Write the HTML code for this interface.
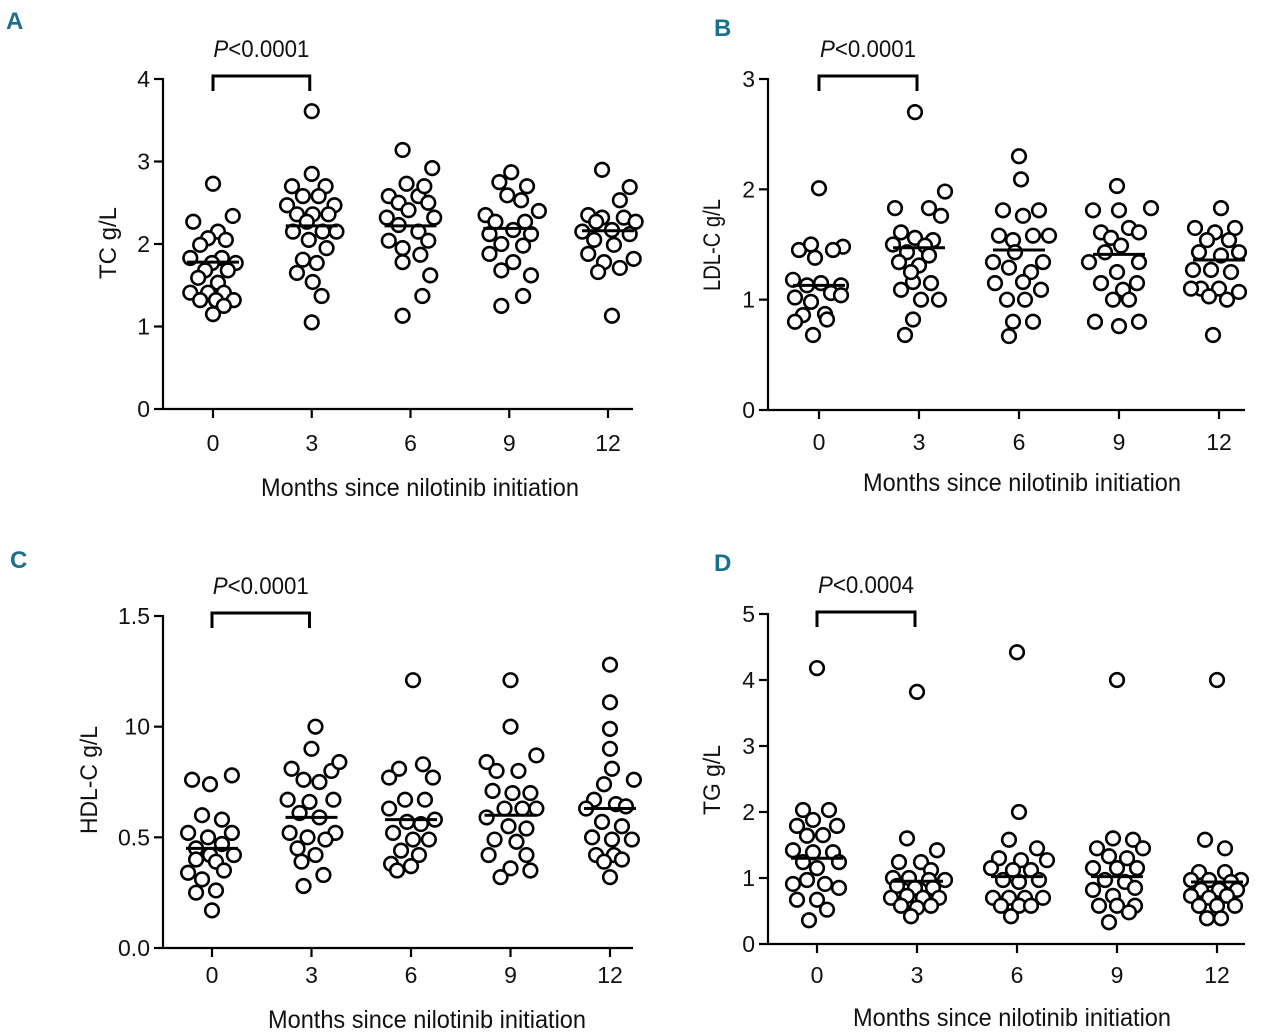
<!DOCTYPE html>
<html><head><meta charset="utf-8">
<style>
html,body{margin:0;padding:0;background:#fff;}
svg{display:block;font-family:"Liberation Sans Narrow","Liberation Sans",sans-serif;}
</style></head>
<body>
<svg id="chart" width="1280" height="1036" viewBox="0 0 1280 1036" xmlns="http://www.w3.org/2000/svg"></svg>
<script>
// ---- Data (values in g/L; jitter in units of 0.03 months) ----
const months = [0, 3, 6, 9, 12];

const tcVals = [
  [2.73,2.34,2.27,2.15,2.07,2.05,1.99,1.83,1.83,1.77,1.77,1.68,1.68,1.59,1.53,1.41,1.41,1.41,1.32,1.32,1.32,1.25,1.15],
  [3.61,2.85,2.7,2.7,2.58,2.58,2.47,2.47,2.36,2.36,2.36,2.27,2.15,2.15,2.15,2.05,1.95,1.81,1.77,1.65,1.54,1.37,1.05],
  [3.14,2.92,2.73,2.58,2.58,2.7,2.5,2.5,2.41,2.32,2.32,2.23,2.15,2.04,2.04,1.95,1.78,1.87,1.62,1.37,1.13],
  [2.87,2.75,2.7,2.59,2.53,2.35,2.4,2.27,2.27,2.17,2.12,2.12,2.0,1.98,1.88,1.78,1.68,1.62,1.37,1.25],
  [2.9,2.69,2.53,2.35,2.32,2.32,2.27,2.27,2.17,2.15,2.12,2.05,1.99,1.88,1.82,1.78,1.71,1.66,1.13]
];
const tcJit = [
  [0,20,-20,5,-5,13,-13,-23,9,-1,23,-8,15,-15,5,-23,-5,11,-13,3,21,11,0],
  [0,0,-20,14,-9,7,-25,23,-15,1,17,-5,-19,11,25,-3,15,-9,5,-15,1,10,0],
  [-8,22,-4,-22,8,14,-12,18,-2,-24,24,-12,8,-22,18,-8,-8,10,20,12,-8],
  [2,-10,18,-2,12,-24,30,-14,16,4,-20,22,-8,14,-20,4,-8,22,14,-8],
  [-6,22,12,-20,-6,16,-12,28,4,-26,22,-14,6,-20,26,-4,12,-10,4]
];
const tcMeans = [1.78, 2.22, 2.22, 2.19, 2.16];

const ldlVals = [
  [2.01,1.45,1.5,1.48,1.45,1.38,1.18,1.13,1.15,1.13,1.06,1.02,0.98,1.04,0.86,0.87,0.8,0.82,0.68],
  [2.7,1.98,1.83,1.83,1.61,1.56,1.76,1.54,1.5,1.49,1.43,1.4,1.34,1.31,1.16,1.15,1.09,1.0,1.0,0.82,0.68,1.25],
  [2.3,2.09,1.81,1.81,1.76,1.58,1.58,1.54,1.58,1.43,1.34,1.34,1.29,1.25,1.15,1.16,1.09,1.0,1.0,0.8,0.8,0.67],
  [2.03,1.81,1.81,1.83,1.65,1.61,1.56,1.61,1.49,1.43,1.34,1.34,1.25,1.15,1.15,1.09,1.0,1.0,0.8,0.76,0.8],
  [1.83,1.65,1.61,1.65,1.54,1.54,1.43,1.4,1.43,1.27,1.27,1.25,1.1,1.1,1.1,1.07,1.03,1.0,0.68]
];
const ldlJit = [
  [0,-20,-8,24,14,-4,-26,-12,2,22,12,-24,-8,22,-16,6,-24,8,-6],
  [-4,26,-24,10,-18,-4,22,14,-26,6,-12,10,-20,0,-6,12,-18,2,20,-6,-14,-8],
  [0,2,-16,20,4,-20,14,-6,30,-4,-26,24,-10,12,-24,4,22,-12,6,-6,14,-10],
  [-2,-26,0,32,10,-18,-8,20,2,-14,-30,20,-2,-18,18,4,-6,10,-24,0,20],
  [2,-24,-4,16,-12,10,-20,2,20,-26,-8,12,-18,0,-28,20,-10,8,-6]
];
const ldlMeans = [1.13, 1.47, 1.45, 1.41, 1.36];

const hdlVals = [
  [0.76,0.74,0.78,0.6,0.58,0.52,0.5,0.52,0.47,0.45,0.42,0.42,0.4,0.39,0.34,0.35,0.31,0.26,0.25,0.17],
  [1.0,0.9,0.81,0.8,0.76,0.84,0.75,0.67,0.66,0.67,0.61,0.59,0.52,0.52,0.5,0.49,0.45,0.42,0.39,0.33,0.28],
  [1.21,0.81,0.83,0.77,0.77,0.67,0.67,0.63,0.57,0.56,0.58,0.52,0.49,0.49,0.44,0.42,0.38,0.37,0.35],
  [1.21,1.0,0.87,0.84,0.8,0.8,0.71,0.7,0.7,0.63,0.63,0.63,0.59,0.55,0.54,0.49,0.48,0.42,0.42,0.36,0.32,0.35],
  [1.28,1.11,0.99,0.9,0.81,0.74,0.76,0.67,0.65,0.63,0.64,0.57,0.55,0.5,0.49,0.49,0.42,0.42,0.39,0.4,0.32]
];
const hdlJit = [
  [-20,-2,20,-10,10,-24,-4,20,10,-16,-2,22,-16,4,-24,12,-10,4,-16,0],
  [4,0,-20,20,-8,28,8,-24,-2,22,-12,8,-22,24,-4,14,-14,4,-10,12,-8],
  [2,-12,12,-22,22,-6,14,-22,-4,10,24,-18,2,18,-10,8,-20,0,-14],
  [0,0,26,-24,-14,8,-18,2,20,-6,12,26,-24,-2,16,-16,6,-22,16,0,-10,20],
  [0,0,0,0,2,-6,24,-16,6,-24,16,-8,12,-18,2,22,-14,4,-6,12,0]
];
const hdlMeans = [0.45, 0.59, 0.58, 0.6, 0.63];

const tgVals = [
  [4.18,2.03,2.03,1.88,1.79,1.79,1.64,1.65,1.42,1.39,1.39,1.24,1.24,1.15,0.91,0.97,0.91,0.85,0.67,0.67,0.52,0.36],
  [3.82,1.6,1.42,1.24,1.24,1.12,1.0,1.0,0.97,0.97,0.88,0.85,0.85,0.7,0.73,0.7,0.7,0.58,0.55,0.58,0.42],
  [4.42,2.0,1.58,1.45,1.3,1.27,1.27,1.15,1.12,1.12,0.97,0.94,0.97,0.7,0.7,0.7,0.7,0.58,0.58,0.58,0.42],
  [4.0,1.6,1.58,1.45,1.45,1.33,1.3,1.15,1.15,1.15,0.97,0.94,0.82,0.85,0.73,0.58,0.58,0.58,0.33,0.48],
  [4.0,1.58,1.45,1.09,1.09,0.97,0.97,0.97,0.94,0.82,0.82,0.82,0.73,0.7,0.73,0.58,0.58,0.58,0.39,0.39]
];
const tgJit = [
  [0,-14,12,-4,-20,20,-10,6,-24,-4,16,-14,22,0,-24,-10,8,22,-20,0,10,-8],
  [0,-10,20,-18,4,14,-24,-8,12,28,-20,-2,16,-26,-10,6,22,-16,0,14,-6],
  [0,2,-8,20,-18,4,30,-26,-4,14,-14,2,22,-24,-8,8,26,-16,2,14,-6],
  [0,-4,16,-20,26,-8,10,-24,0,20,-12,8,-24,18,-4,-18,0,18,-8,12],
  [0,-12,8,-18,8,24,-26,-8,14,-16,2,20,-26,-8,10,-18,0,18,-10,4]
];
const tgMeans = [1.3, 0.95, 1.02, 1.02, 0.94];

const tcTicks = [0,1,2,3,4], tcTickLabels = ["0","1","2","3","4"];
const ldlTicks = [0,1,2,3], ldlTickLabels = ["0","1","2","3"];
const hdlTicks = [0,0.5,1,1.5], hdlTickLabels = ["0.0","0.5","10","1.5"];
const tgTicks = [0,1,2,3,4,5], tgTickLabels = ["0","1","2","3","4","5"];
const monthLabels = ["0","3","6","9","12"];

// ---- Drawing ----
const NS = "http://www.w3.org/2000/svg";
const svg = document.getElementById("chart");
function mk(tag, attrs, parent, txt){
  const e = document.createElementNS(NS, tag);
  for (const k in attrs) e.setAttribute(k, attrs[k]);
  if (txt !== undefined) e.textContent = txt;
  (parent || svg).appendChild(e);
  return e;
}

function panel(cfg){
  const g = mk("g", {});
  
  
  const yS = v => cfg.yB - (v / cfg.ymax) * (cfg.yB - cfg.yT);
  const xS = m => cfg.x0 + (m / 12) * (cfg.x12 - cfg.x0);

  const letter = mk("text", {x: cfg.lx, y: cfg.ly, "font-size": 24, "font-weight": "bold", fill: "#1d6f8e"}, g, cfg.letter);
  
  

  const yAxis = mk("line", {x1: cfg.ax, y1: cfg.yT - 1, x2: cfg.ax, y2: cfg.yB + 1, stroke: "#000", "stroke-width": 2.2}, g);
  
  
  const xAxis = mk("line", {x1: cfg.ax, y1: cfg.yB, x2: cfg.right, y2: cfg.yB, stroke: "#000", "stroke-width": 2.2}, g);
  
  

  cfg.ticks.forEach((t, i) => {
    const y = yS(t);
    mk("line", {x1: cfg.ax - 9, y1: y, x2: cfg.ax, y2: y, stroke: "#000", "stroke-width": 2.2}, g);
    const tl = mk("text", {x: cfg.ax - 13, y: y + 8, "font-size": 23, "text-anchor": "end", fill: "#111"}, g, cfg.tickLabels[i]);
    
    
  });
  months.forEach((m, i) => {
    const x = xS(m);
    mk("line", {x1: x, y1: cfg.yB, x2: x, y2: cfg.yB + 9, stroke: "#000", "stroke-width": 2.2}, g);
    const tl = mk("text", {x: x, y: cfg.xtY, "font-size": 23, "text-anchor": "middle", fill: "#111"}, g, monthLabels[i]);
    
    
  });
  const xt = mk("text", {x: cfg.xtitleX, y: cfg.xtitleY, "font-size": 25, "text-anchor": "middle", fill: "#111", textLength: 318, lengthAdjust: "spacingAndGlyphs"}, g, "Months since nilotinib initiation");
  
  
  const ym = cfg.ylc;
  const yt = mk("text", {x: cfg.ylx, y: ym, "font-size": 24, "text-anchor": "middle", fill: "#111", textLength: cfg.ylen, lengthAdjust: "spacingAndGlyphs", transform: `rotate(-90 ${cfg.ylx} ${ym})`}, g, cfg.ylabel);
  
  

  const bx1 = xS(0), bx2 = xS(3) - 2;
  const br = mk("path", {d: `M${bx1} ${cfg.brY + 15} V${cfg.brY} H${bx2} V${cfg.brY + 15}`, fill: "none", stroke: "#000", "stroke-width": 3}, g);
  
  
  const pt = mk("text", {x: (bx1 + bx2) / 2, y: cfg.brY - 19, "font-size": 24, "text-anchor": "middle", fill: "#111", textLength: 96, lengthAdjust: "spacingAndGlyphs"}, g);
  
  
  mk("tspan", {"font-style": "italic"}, pt, "P");
  mk("tspan", {}, pt, "<" + cfg.p);

  cfg.vals.forEach((arr, gi) => {
    arr.forEach((v, k) => {
      const c = mk("circle", {cx: xS(months[gi] + cfg.jit[gi][k] * 0.03), cy: yS(v), r: 6.8, fill: "#fff", stroke: "#000", "stroke-width": 2.6}, g);
      
      
    });
    const mx = xS(months[gi]);
    const ml = mk("line", {x1: mx - 26, y1: yS(cfg.means[gi]), x2: mx + 26, y2: yS(cfg.means[gi]), stroke: "#000", "stroke-width": 3}, g);
    
    
  });
}

panel({id:"a", letter:"A", lx:6, ly:29, ax:163, right:633, yT:79, yB:409, ymax:4, x0:213, x12:608,
  ticks:tcTicks, tickLabels:tcTickLabels, xtY:451, xtitleX:420, xtitleY:496, ylx:116, ylc:243, ylen:72, ylabel:"TC g/L",
  brY:76, p:"0.0001", vals:tcVals, jit:tcJit, means:tcMeans});
panel({id:"b", letter:"B", lx:714, ly:36, ax:768, right:1245, yT:79, yB:410, ymax:3, x0:819, x12:1219,
  ticks:ldlTicks, tickLabels:ldlTickLabels, xtY:450, xtitleX:1022, xtitleY:491, ylx:720, ylc:245, ylen:92, ylabel:"LDL-C g/L",
  brY:76, p:"0.0001", vals:ldlVals, jit:ldlJit, means:ldlMeans});
panel({id:"c", letter:"C", lx:10, ly:568, ax:163, right:633, yT:616, yB:948, ymax:1.5, x0:212, x12:610,
  ticks:hdlTicks, tickLabels:hdlTickLabels, xtY:983, xtitleX:427, xtitleY:1028, ylx:97, ylc:780, ylen:108, ylabel:"HDL-C g/L",
  brY:613, p:"0.0001", vals:hdlVals, jit:hdlJit, means:hdlMeans});
panel({id:"d", letter:"D", lx:714, ly:571, ax:768, right:1245, yT:614, yB:944, ymax:5, x0:817, x12:1217,
  ticks:tgTicks, tickLabels:tgTickLabels, xtY:983, xtitleX:1012, xtitleY:1026, ylx:720, ylc:780, ylen:70, ylabel:"TG g/L",
  brY:612, p:"0.0004", vals:tgVals, jit:tgJit, means:tgMeans});
</script>
</body></html>
